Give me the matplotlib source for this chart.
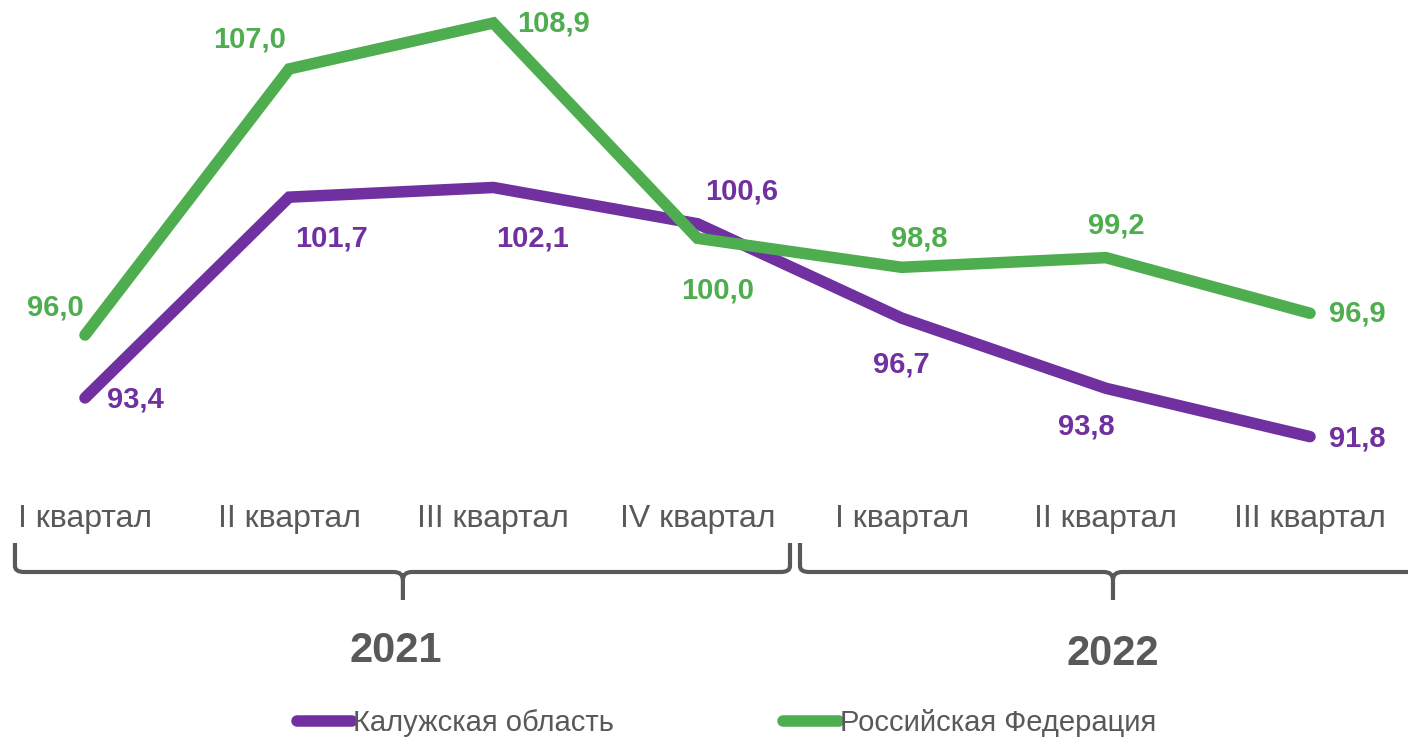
import numpy as np
import matplotlib.pyplot as plt
from matplotlib.path import Path
from matplotlib.patches import PathPatch
import matplotlib.transforms as mtransforms

plt.rcParams['font.family'] = ['Liberation Sans', 'DejaVu Sans']

# данные
quarters = ['I квартал', 'II квартал', 'III квартал', 'IV квартал',
            'I квартал', 'II квартал', 'III квартал']
years = ['2021', '2022']
kaluga = [93.4, 101.7, 102.1, 100.6, 96.7, 93.8, 91.8]
russia = [96.0, 107.0, 108.9, 100.0, 98.8, 99.2, 96.9]
kaluga_name = 'Калужская область'
russia_name = 'Российская Федерация'

purple = '#7030A0'
green = '#4EAD4E'
gray = '#595959'

# смещения подписей (в пикселях)
kaluga_off = [(50, -2), (42, -41), (39, -51), (44, 32), (0, -46), (-20, -38), (47, -2)]
russia_off = [(-30, 28), (-40, 29), (60, -1), (20, -52), (18, 29), (10, 32), (47, 0)]

fig = plt.figure(figsize=(14.08, 7.4), dpi=100)
ax = fig.add_axes([0, 0, 1, 1])
x = np.arange(len(quarters))

lw = 8.3
ax.plot(x, kaluga, color=purple, lw=lw, solid_capstyle='round', solid_joinstyle='miter', zorder=2)
ax.plot(x, russia, color=green, lw=lw, solid_capstyle='round', solid_joinstyle='miter', zorder=3)

for xi, v, off in zip(x, kaluga, kaluga_off):
    ax.annotate(f'{v:.1f}'.replace('.', ','), xy=(xi, v), xytext=off,
                textcoords='offset pixels', ha='center', va='center',
                fontsize=21, fontweight='bold', color=purple)
for xi, v, off in zip(x, russia, russia_off):
    ax.annotate(f'{v:.1f}'.replace('.', ','), xy=(xi, v), xytext=off,
                textcoords='offset pixels', ha='center', va='center',
                fontsize=21, fontweight='bold', color=green)

ax.set_xlim(-0.4163, 6.48)
ax.set_ylim(79.26, 109.85)
ax.axis('off')

trans = mtransforms.blended_transform_factory(ax.transData, ax.transAxes)


def fy(px):
    return 1 - px / 740


# подписи кварталов
for xi, q in zip(x, quarters):
    ax.text(xi, fy(519), q, transform=trans, ha='center', va='center',
            fontsize=23, color=gray)


def brace(x0, x1, xm, top=543, line=572, tip=600):
    r = 0.045
    verts = [(x0, fy(top)), (x0, fy(line - 6)), (x0, fy(line)), (x0 + r, fy(line)),
             (xm - r, fy(line)), (xm, fy(line)), (xm, fy(line + 8)), (xm, fy(tip)),
             (xm, fy(line + 8)), (xm, fy(line)), (xm + r, fy(line)),
             (x1 - r, fy(line)), (x1, fy(line)), (x1, fy(line - 6)), (x1, fy(top))]
    codes = [Path.MOVETO, Path.LINETO, Path.CURVE3, Path.CURVE3,
             Path.LINETO, Path.CURVE3, Path.CURVE3, Path.LINETO,
             Path.MOVETO, Path.CURVE3, Path.CURVE3,
             Path.LINETO, Path.CURVE3, Path.CURVE3, Path.LINETO]
    ax.add_patch(PathPatch(Path(verts, codes), transform=trans, fill=False,
                           edgecolor=gray, lw=3, capstyle='butt', clip_on=False))


brace(-0.343, 3.453, 1.557)
brace(3.502, 6.7, 5.035)

ax.text(1.52, fy(651), years[0], transform=trans, ha='center', va='center',
        fontsize=30, fontweight='bold', color=gray)
ax.text(5.035, fy(654), years[1], transform=trans, ha='center', va='center',
        fontsize=30, fontweight='bold', color=gray)

# легенда
leg = ax.legend([plt.Line2D([], [], color=purple, lw=lw, solid_capstyle='round'),
                 plt.Line2D([], [], color=green, lw=lw, solid_capstyle='round')],
                [kaluga_name, russia_name], loc='center', bbox_to_anchor=(0.516, 1 - 723 / 740),
                ncol=2, frameon=False, fontsize=21, handlelength=1.9, handletextpad=0.05,
                columnspacing=5.8, labelcolor=gray)

fig.savefig('out.png', dpi=100)
